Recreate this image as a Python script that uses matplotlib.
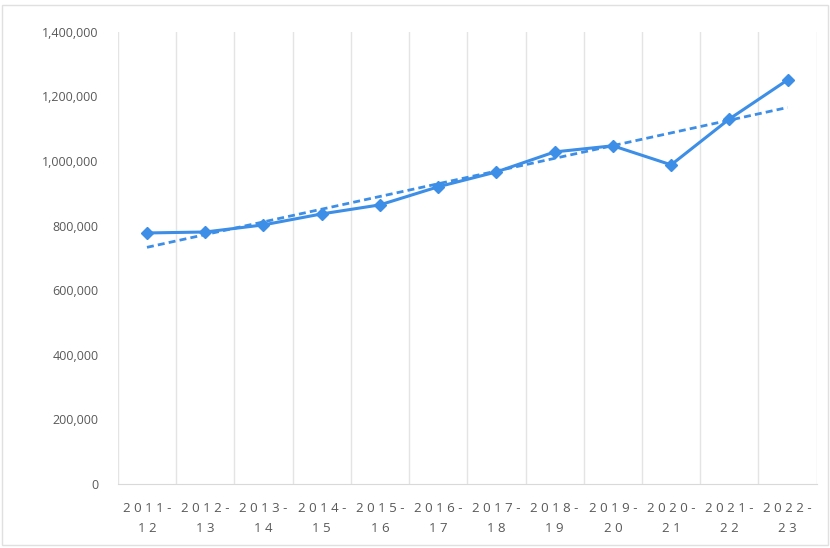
import matplotlib.pyplot as plt
import numpy as np

years = ['2011-\n12', '2012-\n13', '2013-\n14', '2014-\n15', '2015-\n16', '2016-\n17',
         '2017-\n18', '2018-\n19', '2019-\n20', '2020-\n21', '2021-\n22', '2022-\n23']
values = [777000, 780000, 802000, 836000, 864000, 920000,
          966000, 1028000, 1047000, 988000, 1130000, 1251000]

blue = '#3d8ee6'
grey = '#595959'

fig = plt.figure(figsize=(8.3, 5.48), dpi=100)
ax = fig.add_axes([0.142, 0.117, 0.842, 0.825])

x = np.arange(len(years))
ax.plot(x, values, color=blue, linewidth=2.2, marker='D', markersize=6.5, zorder=3)

# linear trendline like excel
k, b = np.polyfit(x, values, 1)
ax.plot(x, k * x + b, color=blue, linewidth=2, linestyle=(0, (2.5, 1.5)), zorder=2)

ax.set_xlim(-0.5, len(years) - 0.5)
ax.set_ylim(0, 1400000)
ax.set_yticks(range(0, 1400001, 200000))
ax.set_yticklabels(['{:,}'.format(v) for v in range(0, 1400001, 200000)],
                   fontsize=9, color=grey, family='Open Sans')
ax.set_xticks(x)
# spaced out letters like the original
spaced = ['\n'.join(' '.join(part) for part in y.split('\n')) for y in years]
ax.set_xticklabels(spaced, fontsize=9.5, color=grey, family='Open Sans', linespacing=1.7)

# vertical gridlines between categories
for gx in np.arange(-0.5, len(years), 1):
    ax.axvline(gx, color='#e4e4e4', linewidth=1, zorder=0)

for s in ['top', 'left', 'right']:
    ax.spines[s].set_visible(False)
ax.spines['bottom'].set_color('#d9d9d9')
ax.tick_params(axis='both', length=0)
ax.tick_params(axis='y', pad=14)
ax.tick_params(axis='x', pad=13)

fig.patches.append(plt.Rectangle((0.003, 0.005), 0.994, 0.985, transform=fig.transFigure,
                                 fill=False, edgecolor='#e0e0e0', linewidth=1))

plt.savefig('out.png')
